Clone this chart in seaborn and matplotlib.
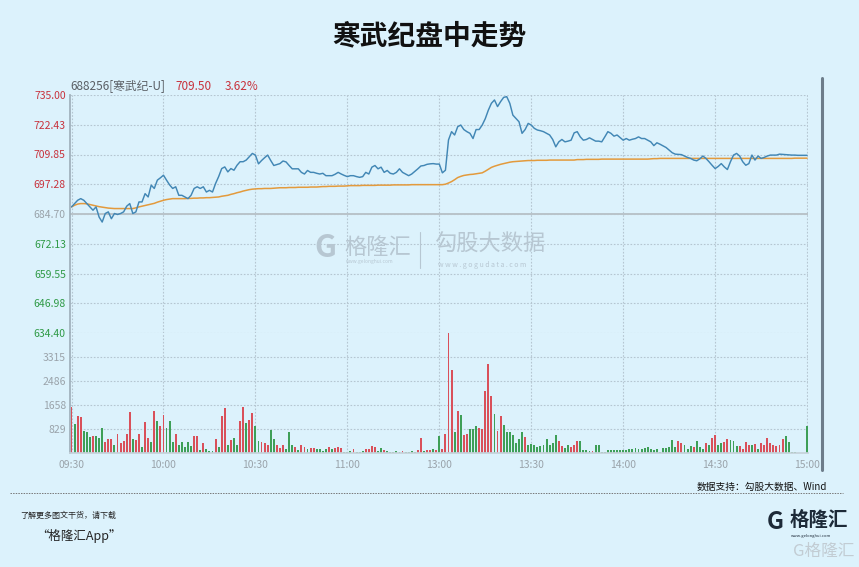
import numpy as np
import pandas as pd
import matplotlib
matplotlib.use("Agg")
import matplotlib.pyplot as plt
import seaborn as sns

# ---------------- data ----------------
title = "寒武纪盘中走势"
stock_label = "688256[寒武纪-U]"
last_price = "709.50"
change_pct = "3.62%"
prev_close = 684.70

price = [
    687.7, 689.1, 690.5, 691.2, 690.5, 689.1, 687.7, 686.3, 687.7, 683.4,
    681.3, 684.9, 685.6, 682.7, 684.9, 684.5, 684.9, 685.6, 688.0, 689.1,
    684.9, 685.6, 689.8, 689.8, 693.3, 691.9, 696.9, 695.5, 699.0, 700.0,
    701.1, 699.0, 697.0, 695.5, 696.2, 692.6, 692.6, 691.9, 691.2, 692.6,
    695.5, 696.2, 695.5, 696.2, 694.0, 694.7, 694.0, 697.6, 700.5, 703.9,
    704.6, 702.5, 703.9, 703.2, 705.3, 706.8, 706.8, 707.5, 708.9, 710.3,
    709.6, 705.9, 707.3, 708.5, 709.6, 707.3, 705.2, 705.6, 706.0, 707.1,
    706.7, 705.2, 703.8, 703.8, 703.8, 702.3, 701.6, 703.1, 702.3, 702.3,
    701.9, 701.6, 701.9, 700.9, 700.9, 700.9, 701.5, 702.3, 701.6, 701.0,
    700.5, 700.9, 700.9, 700.5, 700.2, 700.5, 702.3, 701.6, 704.5, 705.2,
    703.8, 704.5, 702.3, 703.1, 701.9, 701.6, 702.3, 703.8, 702.3, 701.6,
    700.9, 701.6, 702.7, 703.8, 705.0, 705.2, 705.7, 705.9, 706.0, 705.8,
    705.8, 702.1, 703.2, 716.0, 719.5, 718.1, 721.6, 722.3, 720.4, 719.5,
    718.8, 716.6, 720.4, 720.4, 722.3, 725.0, 728.6, 731.5, 732.9, 730.1,
    732.2, 734.0, 734.3, 731.5, 726.5, 725.1, 723.7, 718.8, 720.4, 723.0,
    722.3, 720.9, 720.2, 719.9, 719.5, 718.8, 718.1, 716.2, 713.1, 715.2,
    716.2, 715.2, 715.5, 715.9, 719.0, 719.5, 717.3, 715.9, 716.2, 716.9,
    716.2, 715.5, 715.5, 715.2, 717.3, 719.5, 718.8, 717.6, 718.1, 717.0,
    715.9, 716.6, 715.9, 716.3, 716.6, 717.3, 716.6, 716.6, 715.9, 715.2,
    713.6, 714.8, 714.2, 713.5, 712.8, 711.7, 710.6, 710.0, 709.9, 709.8,
    709.2, 708.6, 708.2, 707.5, 707.2, 708.0, 709.2, 708.2, 706.8, 705.3,
    703.9, 704.8, 706.0, 704.6, 703.5, 706.8, 709.6, 710.3, 709.2, 706.8,
    705.3, 706.0, 709.6, 707.5, 709.2, 708.2, 708.6, 709.2, 709.6, 709.6,
    709.6, 710.0, 709.9, 709.8, 709.7, 709.6, 709.6, 709.5, 709.5, 709.5,
    709.5,
]

avg_price = [
    687.7, 688.4, 688.9, 689.1, 689.1, 689.0, 688.7, 688.4, 688.1, 687.8,
    687.6, 687.4, 687.2, 687.1, 687.0, 687.0, 687.0, 687.0, 687.0, 687.0,
    687.0, 687.3, 687.7, 688.0, 688.3, 688.6, 688.9, 689.2, 689.7, 690.1,
    690.5, 690.8, 691.0, 691.2, 691.2, 691.2, 691.2, 691.2, 691.3, 691.3,
    691.4, 691.4, 691.5, 691.5, 691.6, 691.6, 691.7, 691.8, 691.9, 692.2,
    692.4, 692.6, 693.0, 693.3, 693.7, 694.0, 694.4, 694.7, 695.0, 695.2,
    695.3, 695.4, 695.4, 695.5, 695.5, 695.5, 695.6, 695.7, 695.8, 695.8,
    695.8, 695.9, 695.9, 695.9, 696.0, 696.0, 696.0, 696.0, 696.1, 696.1,
    696.1, 696.2, 696.3, 696.3, 696.4, 696.4, 696.4, 696.5, 696.5, 696.5,
    696.6, 696.7, 696.7, 696.7, 696.7, 696.8, 696.8, 696.8, 696.8, 696.8,
    696.9, 696.9, 696.9, 696.9, 696.9, 697.0, 697.0, 697.0, 697.0, 697.0,
    697.0, 697.1, 697.1, 697.1, 697.1, 697.1, 697.1, 697.1, 697.1, 697.1,
    697.1, 697.1, 697.3, 697.8, 698.4, 699.2, 700.1, 700.6, 701.0, 701.2,
    701.4, 701.5, 701.7, 701.9, 702.1, 702.8, 703.6, 704.4, 704.9, 705.3,
    705.7, 706.0, 706.3, 706.6, 706.8, 706.9, 707.0, 707.1, 707.2, 707.3,
    707.3, 707.3, 707.4, 707.4, 707.4, 707.4, 707.5, 707.5, 707.5, 707.5,
    707.5, 707.5, 707.5, 707.5, 707.5, 707.7, 707.7, 707.7, 707.8, 707.8,
    707.8, 707.8, 707.8, 707.9, 707.9, 707.9, 707.9, 707.9, 707.9, 707.9,
    707.9, 707.9, 707.9, 707.9, 707.9, 707.9, 707.9, 707.9, 707.9, 708.0,
    708.1, 708.1, 708.2, 708.2, 708.2, 708.2, 708.2, 708.2, 708.2, 708.2,
    708.2, 708.2, 708.2, 708.2, 708.2, 708.2, 708.2, 708.2, 708.2, 708.2,
    708.2, 708.2, 708.2, 708.2, 708.2, 708.2, 708.2, 708.2, 708.2, 708.2,
    708.2, 708.2, 708.2, 708.2, 708.2, 708.2, 708.2, 708.2, 708.2, 708.2,
    708.2, 708.2, 708.2, 708.2, 708.2, 708.2, 708.3, 708.3, 708.3, 708.3,
    708.3,
]

volume = [
    1577, 993, 1273, 1226, 748, 724, 549, 572, 572, 526,
    864, 397, 467, 467, 280, 666, 339, 409, 666, 1402,
    490, 455, 666, 222, 1075, 514, 397, 1460, 1098, 923,
    1308, 864, 1110, 397, 666, 292, 397, 199, 374, 257,
    572, 572, 105, 340, 140, 82, 58, 490, 200, 1275,
    1545, 290, 433, 527, 290, 1100, 1580, 1040, 1135, 1370,
    925, 410, 375, 340, 290, 785, 490, 260, 175, 290,
    140, 725, 290, 200, 105, 290, 220, 140, 175, 175,
    140, 140, 58, 140, 199, 140, 175, 199, 175, 23,
    23, 58, 140, 23, 23, 82, 140, 140, 257, 199,
    82, 175, 117, 82, 23, 23, 82, 23, 82, 23,
    23, 82, 23, 117, 526, 82, 117, 117, 140, 117,
    584, 140, 640, 4140, 2880, 720, 1460, 1307, 607, 665,
    840, 840, 920, 875, 840, 2125, 3090, 1970, 1330, 760,
    1270, 980, 720, 720, 607, 340, 490, 720, 548, 290,
    315, 290, 220, 255, 290, 490, 290, 340, 607, 430,
    255, 175, 290, 200, 290, 408, 408, 115, 115, 80,
    80, 290, 290, 30, 30, 105, 105, 120, 90, 105,
    105, 90, 140, 150, 175, 150, 150, 175, 200, 150,
    105, 140, 30, 175, 175, 220, 455, 220, 408, 340,
    290, 140, 255, 220, 408, 200, 140, 340, 290, 525,
    607, 290, 340, 375, 490, 455, 430, 255, 255, 140,
    375, 290, 290, 315, 140, 340, 260, 525, 340, 290,
    255, 290, 490, 570, 375, 40, 20, 0, 0, 0,
    920,
]

direction = list(
    "RGRRGGGRGG" "GRRRGRRRRR" "GRRGRRGRGR" "RGGGRGGGGG"
    "RRGRGGGRGR" "RGRGGRRGRR" "GGRRRGGRRR" "GGGRGRRGRR"
    "GGGGRGRRRG" "GGRGGGRRRR" "GGRGGGGGRG" "GGGRRGRRGR"
    "GRRRRGRGRR" "GGGRRRRRGR" "RGGGGGGGRG" "GGGGGGGGGR"
    "RGGRRRGGGG" "RGGGGGGGGG" "GGGGGGGGGG" "GGGGGGGGRR"
    "GGGRGGGRGR" "RGGRRGGGRR" "RRGRGRRRRR" "RRRGGGGGGG"
    "G"
)

price_ticks = [735.00, 722.43, 709.85, 697.28, 684.70, 672.13, 659.55, 646.98, 634.40]
vol_ticks = [829, 1658, 2486, 3315]
vol_top = 4144
time_ticks = [0, 30, 60, 90, 120, 150, 180, 210, 240]
time_labels = ["09:30", "10:00", "10:30", "11:00", "13:00", "13:30", "14:00", "14:30", "15:00"]

# ---------------- style ----------------
BG = "#dcf2fc"
RED = "#c8323c"
GREEN = "#2f9a46"
GREY = "#9aa3aa"
GRID = "#b5c6d1"
BAR_RED = "#d9505a"
BAR_GREEN = "#3e9f57"
LINE_BLUE = "#4287b5"
LINE_ORANGE = "#e39a3c"

sns.set_theme(style="white")
plt.rcParams["font.family"] = ["Noto Sans CJK SC", "DejaVu Sans"]
plt.rcParams["axes.unicode_minus"] = False

W, H = 859, 567
fig = plt.figure(figsize=(W / 100, H / 100), dpi=100, facecolor=BG)

x_left, x_right = 70, 808
y_top, y_mid, y_bot = 95, 333, 453


def fx(px):
    return px / W


def fy(py):
    return 1 - py / H


ax1 = fig.add_axes([fx(x_left), fy(y_mid), fx(x_right - x_left), (y_mid - y_top) / H])
ax2 = fig.add_axes([fx(x_left), fy(y_bot), fx(x_right - x_left), (y_bot - y_mid) / H])
for ax in (ax1, ax2):
    ax.set_facecolor(BG)
    for s in ax.spines.values():
        s.set_visible(False)

idx = np.arange(len(price))
df = pd.DataFrame({"t": idx, "price": price, "avg": avg_price,
                   "vol": volume, "dir": direction})

# price panel
sns.lineplot(data=df, x="t", y="avg", ax=ax1, color=LINE_ORANGE, linewidth=1.1)
sns.lineplot(data=df, x="t", y="price", ax=ax1, color=LINE_BLUE, linewidth=1.05)
ax1.set_ylim(price_ticks[-1], price_ticks[0])
ax1.set_xlim(-0.5, 240.3)
ax1.set_yticks(price_ticks)
ax1.set_yticklabels([f"{v:.2f}" for v in price_ticks])
for lab, v in zip(ax1.get_yticklabels(), price_ticks):
    if v > prev_close + 0.01:
        lab.set_color(RED)
    elif v < prev_close - 0.01:
        lab.set_color(GREEN)
    else:
        lab.set_color(GREY)
ax1.tick_params(axis="y", length=0, pad=3, labelsize=7.5)
ax1.tick_params(axis="x", length=0, labelbottom=False)
ax1.set_xlabel("")
ax1.set_ylabel("")
ax1.set_xticks(time_ticks)
ax1.grid(True, axis="both", linestyle=(0, (1.5, 1.5)), color=GRID, linewidth=0.8)
ax1.axhline(prev_close, color="#b9c3c9", linewidth=1.4, zorder=1)
ax1.spines["left"].set_visible(True)
ax1.spines["left"].set_color("#9fb0bb")

# volume panel (seaborn bars, colour by tick direction)
sns.barplot(data=df, x="t", y="vol", hue="dir", ax=ax2, native_scale=True,
            palette={"R": BAR_RED, "G": BAR_GREEN}, dodge=False, width=0.62,
            errorbar=None, saturation=1, legend=False, linewidth=0,
            edgecolor="none")
ax2.set_ylim(0, vol_top)
ax2.set_xlim(-0.5, 240.3)
ax2.set_yticks(vol_ticks)
ax2.set_yticklabels([str(v) for v in vol_ticks])
ax2.tick_params(axis="y", length=0, pad=3, labelsize=7.5, labelcolor=GREY)
ax2.set_xticks(time_ticks)
ax2.set_xticklabels(time_labels)
ax2.tick_params(axis="x", length=0, pad=5, labelsize=7.5, labelcolor=GREY)
ax2.set_xlabel("")
ax2.set_ylabel("")
ax2.grid(True, axis="both", linestyle=(0, (1.5, 1.5)), color=GRID, linewidth=0.8)
ax2.spines["left"].set_visible(True)
ax2.spines["left"].set_color("#9fb0bb")
ax2.spines["bottom"].set_visible(True)
ax2.spines["bottom"].set_color("#c5d2da")
for ax in (ax1, ax2):
    ax.set_axisbelow(True)

# header above plot
fig.text(fx(70), fy(86), stock_label, fontsize=8.5, color="#5b6066", va="center")
fig.text(fx(175), fy(86), last_price, fontsize=8.5, color=RED, va="center")
fig.text(fx(225), fy(86), change_pct, fontsize=8.5, color=RED, va="center")

# title
fig.text(0.5, fy(36), title, fontsize=20, fontweight="bold", color="#111111",
         ha="center", va="center")

# right dark bar
fig.add_artist(plt.Line2D([fx(822), fx(822)], [fy(78), fy(470)], color="#6d7d8a",
                          linewidth=2.2))

# watermark
wm = "#b7c7d2"
fig.text(fx(325), fy(248), "G", fontsize=22, fontweight="bold", color=wm,
         ha="center", va="center")
fig.text(fx(344), fy(247), "格隆汇", fontsize=16, color=wm, va="center")
fig.text(fx(346), fy(262), "www.gelonghui.com", fontsize=3.5, color=wm, va="center")
fig.add_artist(plt.Line2D([fx(420), fx(420)], [fy(232), fy(268)], color=wm, linewidth=0.8))
fig.text(fx(434), fy(244), "勾股大数据", fontsize=16, color=wm, va="center")
fig.text(fx(438), fy(265), "w w w . g o g u d a t a . c o m", fontsize=5, color=wm, va="center")

# footer
fig.text(fx(827), fy(487), "数据支持：勾股大数据、Wind", fontsize=7, color="#111111",
         ha="right", va="center")
fig.add_artist(plt.Line2D([fx(10), fx(843)], [fy(493), fy(493)], color="#777777",
                          linewidth=0.7, linestyle=(0, (1.5, 1.2))))
fig.text(fx(20), fy(515), "了解更多图文干货，请下载", fontsize=5.8, color="#222222",
         style="italic", va="center")
fig.text(fx(36), fy(536), "“格隆汇App”", fontsize=9, color="#222222",
         style="italic", va="center")

# logo bottom right
fig.text(fx(775), fy(522), "G", fontsize=17, fontweight="bold", color="#1d2a38",
         ha="center", va="center")
fig.text(fx(790), fy(520), "格隆汇", fontsize=14, fontweight="bold", color="#1d2a38",
         va="center")
fig.text(fx(791), fy(536), "www.gelonghui.com", fontsize=3, color="#1d2a38", va="center")
fig.text(fx(793), fy(551), "G格隆汇", fontsize=12, color="#c2ccd3", va="center")

fig.savefig("out.png", dpi=100, facecolor=BG)
